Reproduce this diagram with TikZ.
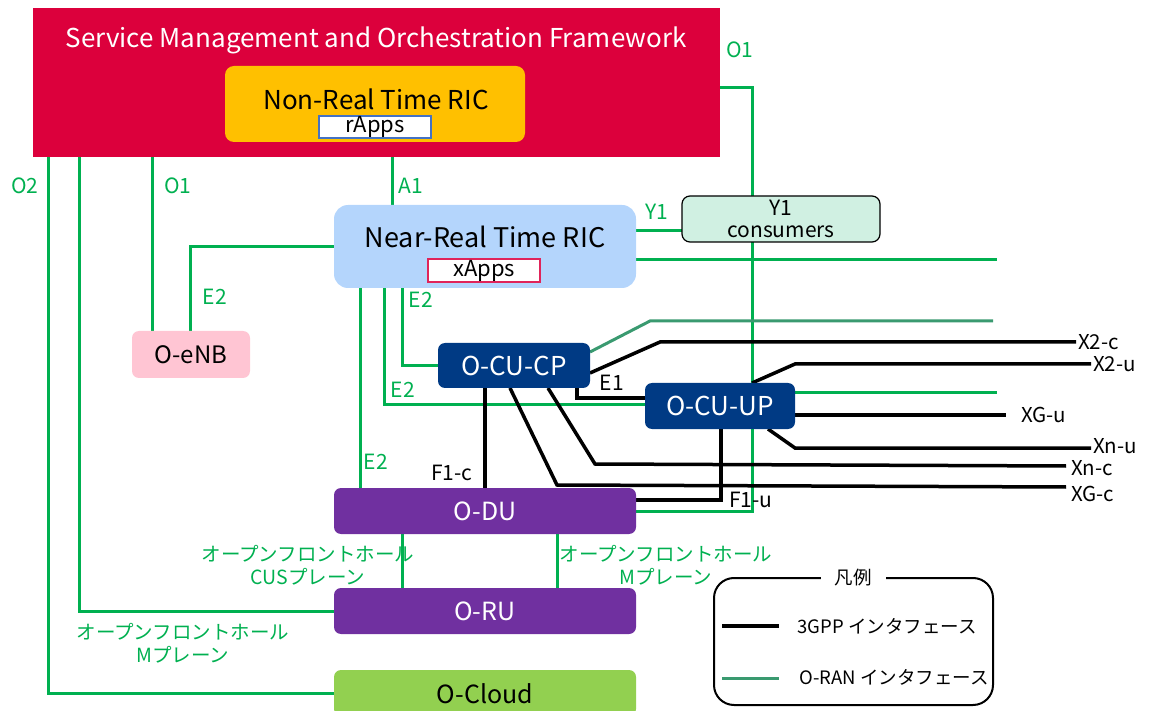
\documentclass[tikz,border=0pt]{standalone}
\usepackage{fontspec}
\setmainfont{Noto Sans CJK JP}
\usetikzlibrary{positioning}
\pgfdeclarelayer{bg}
\pgfsetlayers{bg,main}
\definecolor{smored}{RGB}{220,0,60}
\definecolor{nonrt}{RGB}{255,192,0}
\definecolor{nrtblue}{RGB}{180,213,252}
\definecolor{yone}{RGB}{208,240,226}
\definecolor{enbpink}{RGB}{255,197,211}
\definecolor{cublue}{RGB}{0,58,132}
\definecolor{dupurple}{RGB}{112,48,160}
\definecolor{cloudgreen}{RGB}{146,208,80}
\definecolor{ifgreen}{RGB}{0,176,80}
\definecolor{orteal}{RGB}{58,154,112}
\definecolor{rblue}{RGB}{68,114,196}
\definecolor{xred}{RGB}{224,36,90}
\tikzset{
  blk/.style={inner sep=0pt, outer sep=0pt, rounded corners=9pt},
  gl/.style={draw=ifgreen, line width=3pt},
  tl/.style={draw=orteal, line width=3pt},
  kl/.style={draw=black, line width=3.5pt},
  glab/.style={text=ifgreen, font=\fontsize{21}{23}\selectfont, inner sep=1pt},
  klab/.style={text=black, font=\fontsize{21}{23}\selectfont, inner sep=1pt},
  xlab/.style={text=black, font=\fontsize{20.5}{22}\selectfont, inner sep=0pt, anchor=west},
  jlab/.style={text=ifgreen, font=\fontsize{19.5}{23}\selectfont, align=center, inner sep=1pt},
}
\begin{document}
\begin{tikzpicture}[x=1pt,y=-1pt]
\useasboundingbox (0,0) rectangle (1152,711);
% nodes
\node[blk, rounded corners=0pt, fill=smored, minimum width=687pt, minimum height=149pt] (smo) at (376.5,82.5) {};
\node[text=white, font=\fontsize{26}{28}\selectfont] (smot) at (376,40) {Service Management and Orchestration Framework};
\node[blk, fill=nonrt, minimum width=300pt, minimum height=76pt] (nonrt) at (375,104) {};
\node[font=\fontsize{26}{28}\selectfont] (nonrtt) at (376,99) {Non-Real Time RIC};
\node[fill=white, draw=rblue, line width=1.2pt, minimum width=112pt, minimum height=22pt, inner sep=0pt, font=\fontsize{22}{22}\selectfont] (rapps) at (375,127) {rApps};
\node[blk, fill=nrtblue, minimum width=302pt, minimum height=83pt, rounded corners=14pt] (nrt) at (485,246.5) {};
\node[font=\fontsize{27}{29}\selectfont] (nrtt) at (485,237) {Near-Real Time RIC};
\node[fill=white, draw=xred, line width=1.2pt, minimum width=112pt, minimum height=23pt, inner sep=0pt, font=\fontsize{22}{22}\selectfont] (xapps) at (484,270.5) {xApps};
\node[blk, fill=yone, draw=black, line width=1.2pt, minimum width=198pt, minimum height=46pt, rounded corners=8pt, align=center, font=\fontsize{21}{22}\selectfont] (y1) at (781,219) {Y1\\consumers};
\node[blk, fill=enbpink, minimum width=118pt, minimum height=47pt, rounded corners=7pt, font=\fontsize{24}{26}\selectfont] (oenb) at (191,354.5) {O-eNB};
\node[blk, fill=cublue, text=white, minimum width=152pt, minimum height=45pt, rounded corners=7pt, font=\fontsize{26}{28}\selectfont] (ocucp) at (514,365.5) {O-CU-CP};
\node[blk, fill=cublue, text=white, minimum width=150pt, minimum height=46pt, rounded corners=7pt, font=\fontsize{26}{28}\selectfont] (ocuup) at (720,406) {O-CU-UP};
\node[blk, fill=dupurple, text=white, minimum width=302pt, minimum height=46pt, rounded corners=7pt, font=\fontsize{25}{27}\selectfont] (odu) at (485,511) {O-DU};
\node[blk, fill=dupurple, text=white, minimum width=302pt, minimum height=46pt, rounded corners=7pt, font=\fontsize{25}{27}\selectfont] (oru) at (485,611) {O-RU};
\node[blk, fill=cloudgreen, minimum width=302pt, minimum height=46pt, rounded corners=7pt] (ocloud) at (485,693) {};
\node[font=\fontsize{25}{27}\selectfont] (ocloudt) at (485,694) {O-Cloud};
% legend
\node[draw=black, line width=2pt, rounded corners=20pt, minimum width=279pt, minimum height=127pt, inner sep=0pt] (legend) at (853.5,641.5) {};
\node[fill=white, inner xsep=14pt, inner ysep=1pt, font=\fontsize{18.5}{21}\selectfont] (legt) at (853,578) {凡例};
\coordinate (lk1) at (722,626);
\coordinate (lk2) at (779,626);
\coordinate (lt1) at (722,678);
\coordinate (lt2) at (779,678);
\draw[kl] (lk1) -- (lk2);
\draw[tl] (lt1) -- (lt2);
\node[anchor=west, font=\fontsize{18.5}{21}\selectfont] (lkt) at (794,626) {3GPP インタフェース};
\node[anchor=west, font=\fontsize{18.5}{21}\selectfont] (ltt) at (796,677) {O-RAN インタフェース};
% free ends
\coordinate (g1) at (997,260);
\coordinate (t1) at (993,321);
\coordinate (x2c) at (1076,342);
\coordinate (x2u) at (1091,364);
\coordinate (g2) at (997,393);
\coordinate (xgu) at (1006,415);
\coordinate (xnu) at (1091,448);
\coordinate (xnc) at (1066,466);
\coordinate (xgc) at (1066,487);
\begin{pgfonlayer}{bg}
\draw[gl] (smo.south -| 48,0) |- (ocloud.west);
\draw[gl] (smo.south -| 79,0) |- (oru.west);
\draw[gl] (smo.south -| 152,0) -- (oenb.north -| 152,0);
\draw[gl] (smo.south -| 392,0) -- (nrt.north -| 392,0);
\draw[gl] (nrt.west |- 0,247) -| (oenb.north -| 190,0);
\draw[gl] (smo.east |- 0,88) -| (odu.east -| 752,0) -- (odu.east);
\draw[gl] (nrt.east |- 0,231) -- (y1.west |- 0,231);
\draw[gl] (nrt.east |- 0,260) -- (g1);
\draw[gl] (nrt.south -| 360,0) -- (odu.north -| 360,0);
\draw[gl] (nrt.south -| 384,0) |- (ocuup.west |- 0,405);
\draw[gl] (nrt.south -| 402,0) |- (ocucp.west);
\draw[gl] (ocuup.east |- 0,393) -- (g2);
\draw[gl] (odu.south -| 402,0) -- (oru.north -| 402,0);
\draw[gl] (odu.south -| 557,0) -- (oru.north -| 557,0);
\draw[tl] (ocucp.east |- 0,352) -- (650,321) -- (t1);
\draw[kl] (ocucp.east |- 0,373) -- (660,342) -- (x2c);
\draw[kl] (ocuup.north -| 752,0) -- (795,364) -- (x2u);
\draw[kl] (ocuup.east |- 0,415) -- (xgu);
\draw[kl] (ocuup.south -| 768,0) -- (795,448) -- (xnu);
\draw[kl] (ocucp.south -| 548,0) -- (595,464) -- (xnc);
\draw[kl] (ocucp.south -| 510,0) -- (557,485) -- (xgc);
\draw[kl] (ocucp.south -| 485,0) -- (odu.north -| 485,0);
\draw[kl] (ocucp.south -| 577,0) |- (ocuup.west |- 0,398);
\draw[kl] (ocuup.south -| 721,0) |- (odu.east |- 0,500);
\end{pgfonlayer}
% labels
\node[glab] (lo1r) at (740,50) {O1};
\node[glab] (lo2) at (25,186) {O2};
\node[glab] (lo1) at (178,186) {O1};
\node[glab] (la1) at (411,186) {A1};
\node[glab] (ly1) at (657,212) {Y1};
\node[glab] (le2e) at (215,297) {E2};
\node[glab] (le2c) at (421,300) {E2};
\node[glab] (le2b) at (403,390) {E2};
\node[glab] (le2a) at (376,462) {E2};
\node[klab] (le1) at (612,383) {E1};
\node[klab] (lf1c) at (452,473) {F1-c};
\node[klab] (lf1u) at (751,500) {F1-u};
\node[xlab] at ([xshift=2pt]x2c) {X2-c};
\node[xlab] at ([xshift=2pt]x2u) {X2-u};
\node[xlab] at ([xshift=15pt]xgu) {XG-u};
\node[xlab] at ([xshift=2pt,yshift=2pt]xnu) {Xn-u};
\node[xlab] at ([xshift=5pt,yshift=-2pt]xnc) {Xn-c};
\node[xlab] at ([xshift=5pt,yshift=-7pt]xgc) {XG-c};
\node[jlab] (lcus) at (308,565) {オープンフロントホール\\CUSプレーン};
\node[jlab] (lmr) at (666,565) {オープンフロントホール\\Mプレーン};
\node[jlab] (lml) at (183,643) {オープンフロントホール\\Mプレーン};
\end{tikzpicture}
\end{document}
